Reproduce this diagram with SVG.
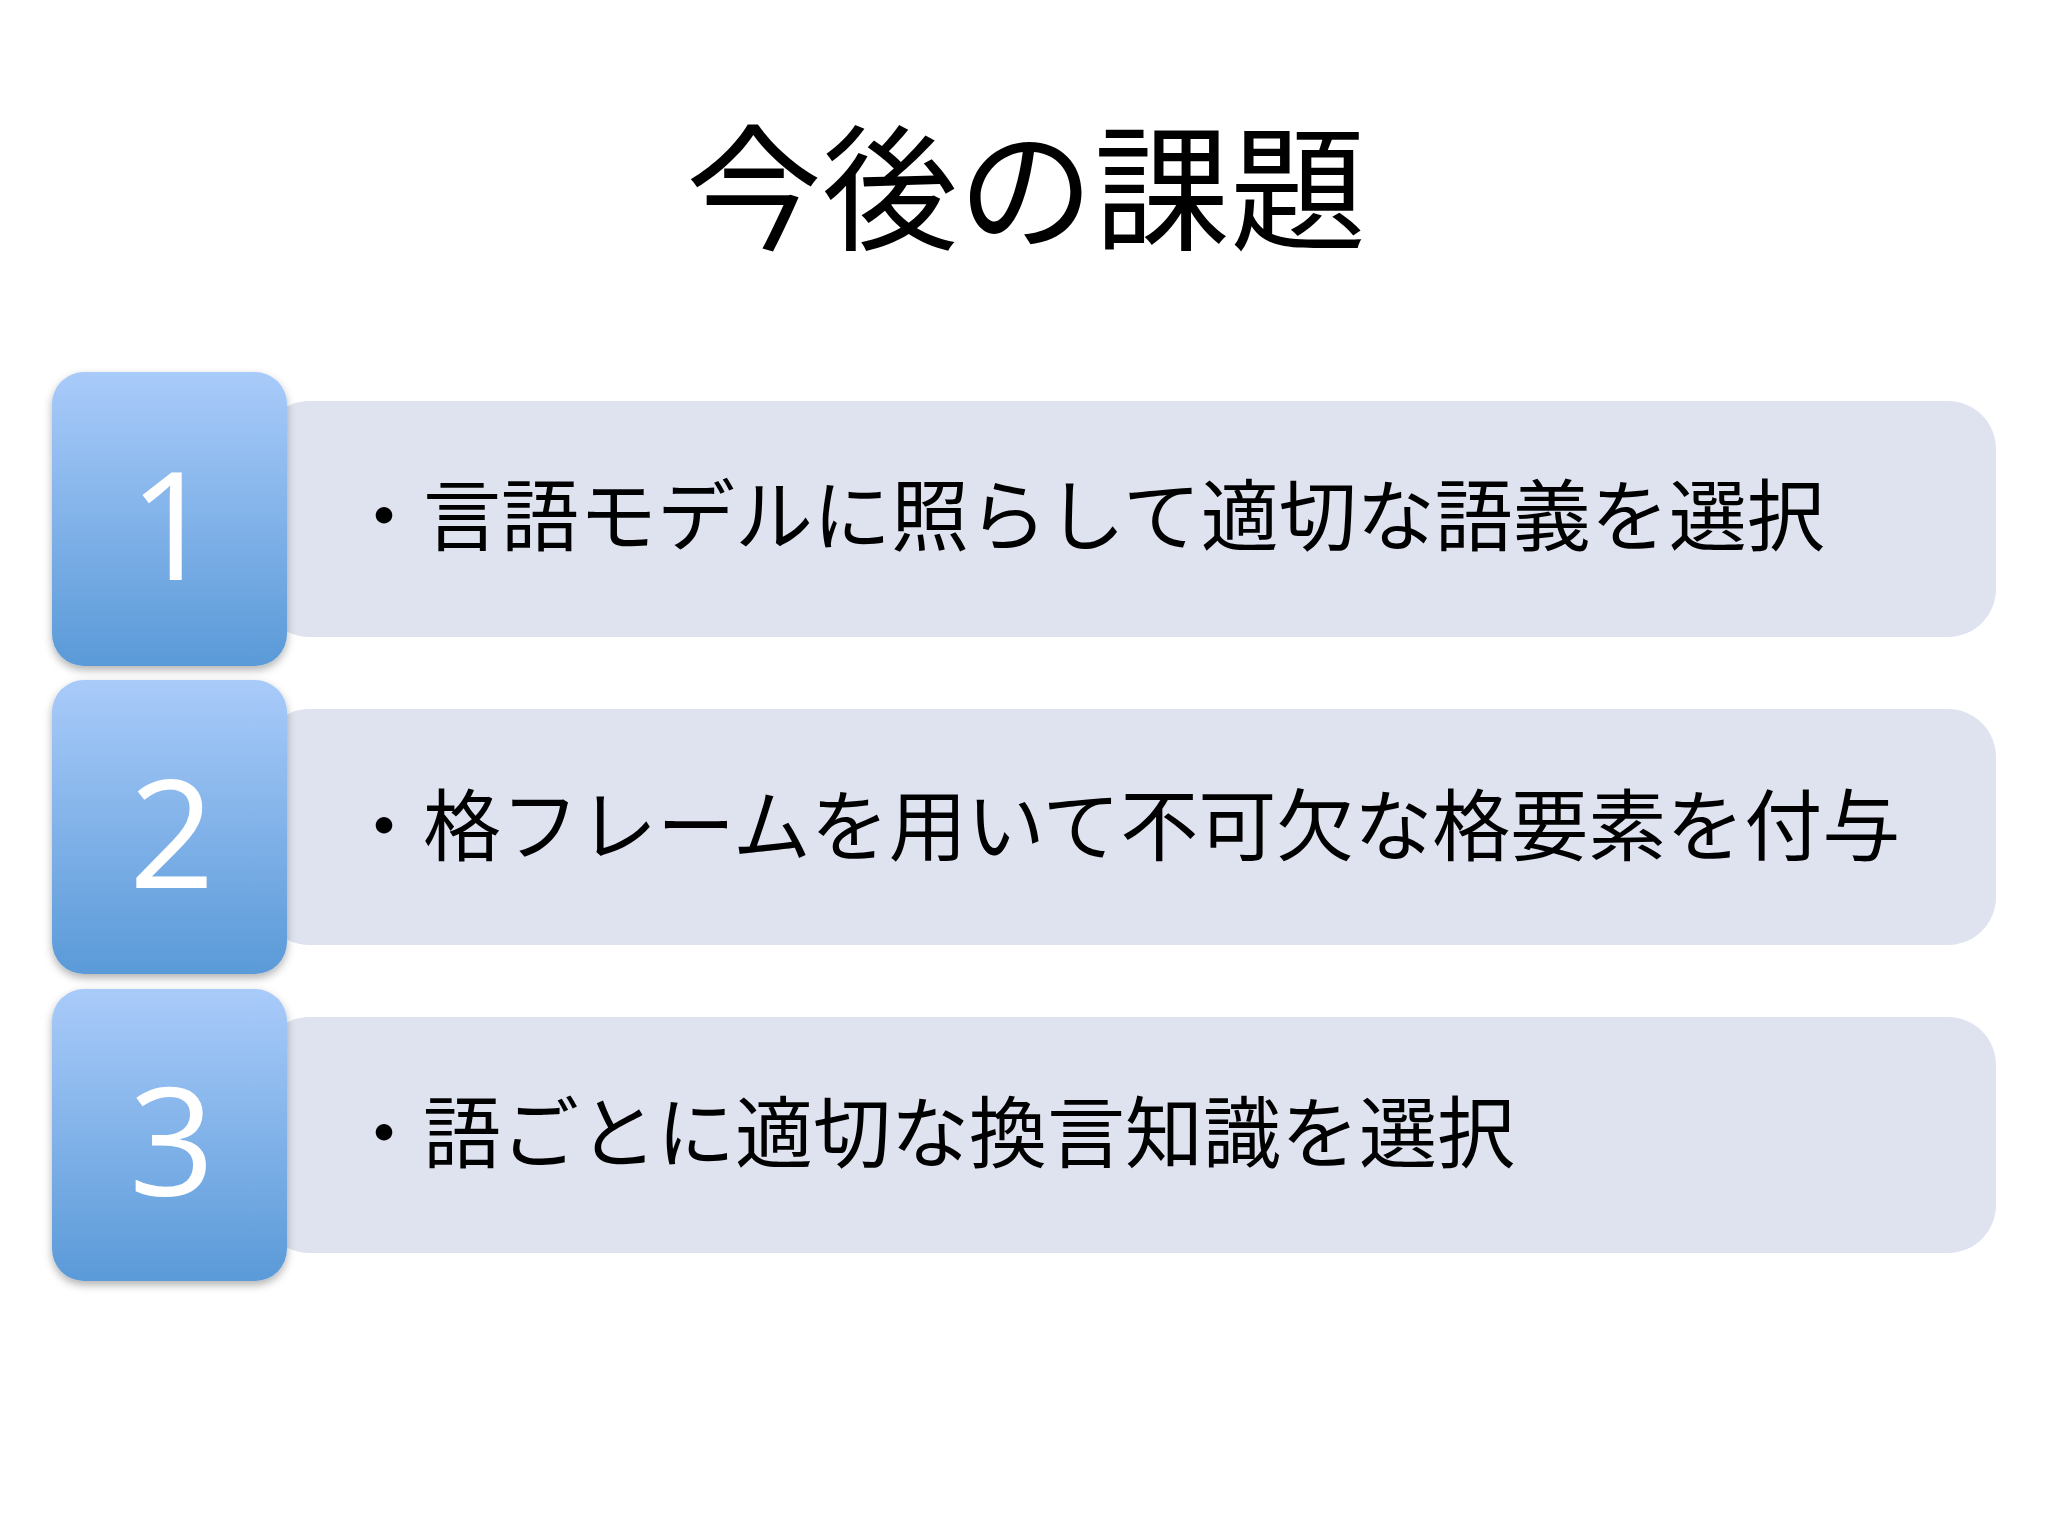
<svg xmlns="http://www.w3.org/2000/svg" width="2048" height="1536" viewBox="0 0 2048 1536">
<defs>
<linearGradient id="g" x1="0" y1="0" x2="0" y2="1"><stop offset="0" stop-color="#a9cbfa"/><stop offset="1" stop-color="#5a9ad8"/></linearGradient>
<filter id="s" x="-20%" y="-20%" width="140%" height="140%"><feDropShadow dx="0" dy="4" stdDeviation="4" flood-color="#000" flood-opacity="0.3"/></filter>
<style>
.bar{fill:#dee3ef}
.box{fill:url(#g);filter:url(#s)}
.num{font-family:"Open Sans","Noto Sans",sans-serif;font-size:150px;fill:#fff;text-anchor:middle}
.txt{font-family:"Noto Sans CJK JP",sans-serif;font-size:78px;fill:#000}
.title{font-family:"Noto Sans CJK JP",sans-serif;font-size:136px;fill:#000;text-anchor:middle}
</style>
</defs>
<rect width="2048" height="1536" fill="#fff"/>
<text class="title" x="1026" y="240">今後の課題</text>
<g id="item1"><rect class="bar" x="261" y="401" width="1735" height="236" rx="48"/><rect class="box" x="52" y="372" width="235" height="294" rx="32"/><text class="num" x="172" y="580">1</text><text class="txt" x="345" y="545">・言語モデルに照らして適切な語義を選択</text></g>
<g id="item2"><rect class="bar" x="261" y="709" width="1735" height="236" rx="48"/><rect class="box" x="52" y="680" width="235" height="294" rx="32"/><text class="num" x="172" y="888">2</text><text class="txt" x="345" y="855">・格フレームを用いて不可欠な格要素を付与</text></g>
<g id="item3"><rect class="bar" x="261" y="1017" width="1735" height="236" rx="48"/><rect class="box" x="52" y="989" width="235" height="292" rx="32"/><text class="num" x="172" y="1196">3</text><text class="txt" x="345" y="1162">・語ごとに適切な換言知識を選択</text></g>
<g id="connectors"/>
</svg>
